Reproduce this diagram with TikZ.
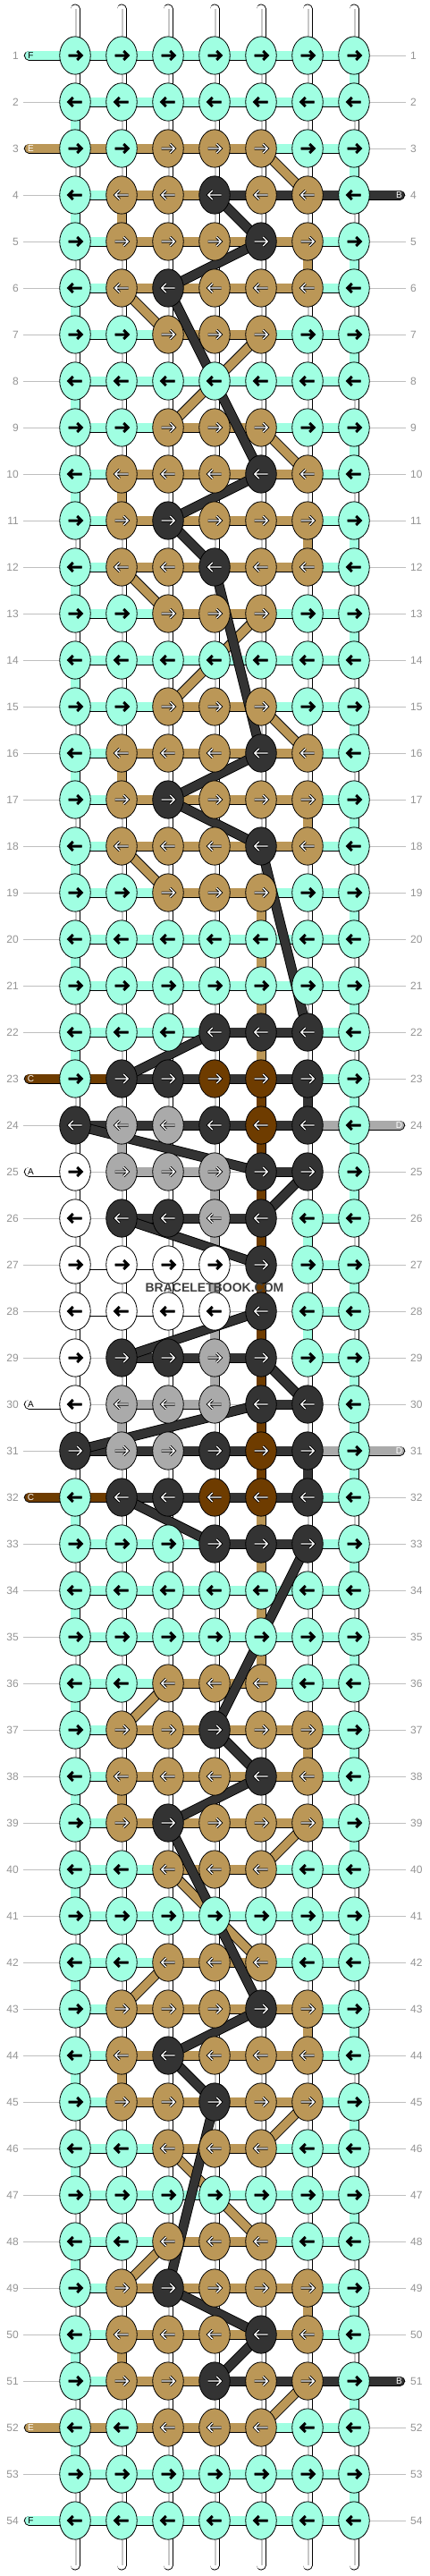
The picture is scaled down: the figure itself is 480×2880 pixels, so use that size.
\documentclass[tikz,border=0pt]{standalone}
\usepackage{fontspec}
\setmainfont{Liberation Sans}
\usetikzlibrary{shapes.geometric}
\definecolor{cM}{HTML}{A0FFE2}
\definecolor{cT}{HTML}{BB9757}
\definecolor{cK}{HTML}{333333}
\definecolor{cB}{HTML}{6E3C00}
\definecolor{cG}{HTML}{AAAAAA}
\definecolor{cW}{HTML}{FFFFFF}
\definecolor{cw}{HTML}{FFFFFF}
\colorlet{aM}{black}\colorlet{aW}{black}\colorlet{aT}{white}
\colorlet{aK}{white}\colorlet{aB}{white}\colorlet{aG}{white}
% pass A: knot centre coordinates, guide lines, row numbers
\newcommand\passA[4]{%
  \pgfmathsetmacro\yy{-(62+52*(#1-1))}%
  \foreach \ci in {1,...,7} {\coordinate (k#1-\ci) at ({84+52*(\ci-1)},\yy);}
  \coordinate (gl#1) at (26,\yy);
  \coordinate (gr#1) at (454,\yy);
  \draw[guide] (gl#1) -- (gr#1);
  \node[rowlab,anchor=east] (nl#1) at (21,\yy) {#1};
  \node[rowlab,anchor=west] (nr#1) at (459,\yy) {#1};
}
% pass B: horizontal and vertical connectors
\newcommand\passB[4]{%
  \foreach \hh [count=\ci] in {#3} {
    \if N\hh\else
      \pgfmathtruncatemacro\cn{\ci+1}
      \draw[bar,double=c\hh] (k#1-\ci) -- (k#1-\cn);
    \fi
  }
  \ifnum#1>1
    \pgfmathtruncatemacro\rp{#1-1}
    \foreach \vv [count=\ci] in {#4} {
      \draw[bar,double=c\vv] (k\rp-\ci) -- (k#1-\ci);
      \if w\vv \draw[sheen] ([xshift=1pt]k\rp-\ci) -- ([xshift=1pt]k#1-\ci);\fi
    }
  \fi
}
% pass C: knots and arrows
\newcommand\passC[4]{%
  \pgfmathsetmacro\dd{1-2*mod(#1+1,2)}%
  \foreach \kk [count=\ci] in {#2} {
    \node[knot,fill=c\kk] (n#1-\ci) at (k#1-\ci) {};
    \begin{scope}[shift={(n#1-\ci.center)},xscale=\dd]
      \draw[arrowout] (-7.5,0) -- (6.5,0) (2.3,5) -- (7.3,0) -- (2.3,-5);
      \draw[arrowin,draw=a\kk] (-7.5,0) -- (6.5,0) (2.3,5) -- (7.3,0) -- (2.3,-5);
    \end{scope}
  }
}
\newcommand\lend[3]{%
  \pgfmathsetmacro\yy{-(62+52*(#1-1))}%
  \coordinate (L#1) at (32.5,\yy);
  \draw[bar,double=c#2,line cap=round] (L#1) -- (k#1-1);
  \node[endlab,text=a#2] (LL#1) at (34.5,\yy) {#3};
}
\newcommand\rend[3]{%
  \pgfmathsetmacro\yy{-(62+52*(#1-1))}%
  \coordinate (R#1) at (447.5,\yy);
  \draw[bar,double=c#2,line cap=round] (k#1-7) -- (R#1);
  \node[endlab,text=a#2] (RR#1) at (446.5,\yy) {#3};
}
\newcommand\rowdata{%
\krow{1}{M,M,M,M,M,M,M}{M,M,M,M,M,M}{}
\krow{2}{M,M,M,M,M,M,M}{M,M,M,M,M,M}{w,w,w,w,w,w,M}
\krow{3}{M,M,T,T,T,M,M}{T,T,T,T,M,M}{M,w,w,w,w,w,w}
\krow{4}{M,T,T,K,T,T,M}{M,T,T,K,K,K}{w,w,w,w,w,w,M}
\krow{5}{M,T,T,T,K,T,M}{M,T,T,T,T,M}{M,T,w,w,w,w,w}
\krow{6}{M,T,K,T,T,T,M}{M,T,T,T,T,M}{w,w,w,w,w,T,M}
\krow{7}{M,M,T,T,T,M,M}{M,M,T,T,M,M}{M,w,w,w,w,w,w}
\krow{8}{M,M,M,M,M,M,M}{M,M,M,M,M,M}{w,w,w,w,w,w,M}
\krow{9}{M,M,T,T,T,M,M}{M,M,T,T,M,M}{M,w,w,w,w,w,w}
\krow{10}{M,T,T,T,K,T,M}{M,T,T,T,T,M}{w,w,w,w,w,w,M}
\krow{11}{M,T,K,T,T,T,M}{M,T,T,T,T,M}{M,T,w,w,w,w,w}
\krow{12}{M,T,T,K,T,T,M}{M,T,T,T,T,M}{w,w,w,w,w,T,M}
\krow{13}{M,M,T,T,T,M,M}{M,M,T,T,M,M}{M,w,w,w,w,w,w}
\krow{14}{M,M,M,M,M,M,M}{M,M,M,M,M,M}{w,w,w,w,w,w,M}
\krow{15}{M,M,T,T,T,M,M}{M,M,T,T,M,M}{M,w,w,w,w,w,w}
\krow{16}{M,T,T,T,K,T,M}{M,T,T,T,T,M}{w,w,w,w,w,w,M}
\krow{17}{M,T,K,T,T,T,M}{M,T,T,T,T,M}{M,T,w,w,w,w,w}
\krow{18}{M,T,T,T,K,T,M}{M,T,T,T,T,M}{w,w,w,w,w,T,M}
\krow{19}{M,M,T,T,T,M,M}{M,M,T,T,M,M}{M,w,w,w,w,w,w}
\krow{20}{M,M,M,M,M,M,M}{M,M,M,M,M,M}{w,w,w,w,T,w,M}
\krow{21}{M,M,M,M,M,M,M}{M,M,M,M,M,M}{M,w,w,w,T,w,w}
\krow{22}{M,M,M,K,K,K,M}{M,M,M,K,K,M}{w,w,w,w,T,w,M}
\krow{23}{M,K,K,B,B,K,M}{B,K,K,K,K,M}{M,w,w,w,T,w,w}
\krow{24}{K,G,G,K,B,K,M}{K,K,K,K,K,G}{w,w,w,w,B,K,M}
\krow{25}{W,G,G,G,K,K,M}{N,G,G,N,K,N}{w,G,w,w,B,w,M}
\krow{26}{W,K,K,G,K,M,M}{N,K,K,K,N,M}{w,w,w,G,B,w,M}
\krow{27}{W,W,W,W,K,M,M}{W,W,W,N,N,M}{w,w,w,G,B,M,w}
\krow{28}{W,W,W,W,K,M,M}{W,W,W,N,N,M}{w,w,w,G,B,w,M}
\krow{29}{W,K,K,G,K,M,M}{N,K,K,K,N,M}{w,w,w,G,B,M,w}
\krow{30}{W,G,G,G,K,K,M}{N,G,G,N,K,N}{w,w,w,G,B,w,M}
\krow{31}{K,G,G,K,B,K,M}{K,K,K,K,K,G}{w,G,w,w,B,w,M}
\krow{32}{M,K,K,B,B,K,M}{B,K,K,K,K,M}{w,w,w,w,B,K,M}
\krow{33}{M,M,M,K,K,K,M}{M,M,M,K,K,M}{M,w,w,w,T,w,w}
\krow{34}{M,M,M,M,M,M,M}{M,M,M,M,M,M}{w,w,w,w,T,w,M}
\krow{35}{M,M,M,M,M,M,M}{M,M,M,M,M,M}{M,w,w,w,T,w,w}
\krow{36}{M,M,T,T,T,M,M}{M,M,T,T,M,M}{w,w,w,w,T,w,M}
\krow{37}{M,T,T,K,T,T,M}{M,T,T,T,T,M}{M,w,w,w,w,w,w}
\krow{38}{M,T,T,T,K,T,M}{M,T,T,T,T,M}{w,w,w,w,w,T,M}
\krow{39}{M,T,K,T,T,T,M}{M,T,T,T,T,M}{M,T,w,w,w,w,w}
\krow{40}{M,M,T,T,T,M,M}{M,M,T,T,M,M}{w,w,w,w,w,w,M}
\krow{41}{M,M,M,M,M,M,M}{M,M,M,M,M,M}{M,w,w,w,w,w,w}
\krow{42}{M,M,T,T,T,M,M}{M,M,T,T,M,M}{w,w,w,w,w,w,M}
\krow{43}{M,T,T,T,K,T,M}{M,T,T,T,T,M}{M,w,w,w,w,w,w}
\krow{44}{M,T,K,T,T,T,M}{M,T,T,T,T,M}{w,w,w,w,w,T,M}
\krow{45}{M,T,T,K,T,T,M}{M,T,T,T,T,M}{M,T,w,w,w,w,w}
\krow{46}{M,M,T,T,T,M,M}{M,M,T,T,M,M}{w,w,w,w,w,w,M}
\krow{47}{M,M,M,M,M,M,M}{M,M,M,M,M,M}{M,w,w,w,w,w,w}
\krow{48}{M,M,T,T,T,M,M}{M,M,T,T,M,M}{w,w,w,w,w,w,M}
\krow{49}{M,T,K,T,T,T,M}{M,T,T,T,T,M}{M,w,w,w,w,w,w}
\krow{50}{M,T,T,T,K,T,M}{M,T,T,T,T,M}{w,w,w,w,w,T,M}
\krow{51}{M,T,T,K,T,T,M}{M,T,T,K,K,K}{M,T,w,w,w,w,w}
\krow{52}{M,M,T,T,T,M,M}{T,T,T,T,M,M}{w,w,w,w,w,w,M}
\krow{53}{M,M,M,M,M,M,M}{M,M,M,M,M,M}{M,w,w,w,w,w,w}
\krow{54}{M,M,M,M,M,M,M}{M,M,M,M,M,M}{w,w,w,w,w,w,M}
}
\begin{document}
\begin{tikzpicture}[x=1pt,y=1pt,
  knot/.style={ellipse,draw=black,line width=0.8pt,minimum width=34.5pt,minimum height=42.3pt,inner sep=0pt},
  bar/.style={draw=black,line width=0.9pt,double distance=9.2pt},
  sheen/.style={draw=black!22,line width=1.1pt},
  guide/.style={draw=black!25,line width=0.8pt},
  rowlab/.style={text=black!42,font=\fontsize{12}{12}\selectfont,inner sep=0pt},
  endlab/.style={font=\fontsize{10}{10}\selectfont,inner sep=0pt},
  arrowout/.style={draw=black,line width=3pt,line join=miter,miter limit=10},
  arrowin/.style={line width=1.3pt,line join=miter,miter limit=10}]
\fill[white] (0,0) rectangle (480,-2880);
\useasboundingbox (0,0) rectangle (480,-2880);
\let\krow\passA \rowdata
\foreach \ci in {1,...,7} {
  \coordinate (TS\ci) at ({84+52*(\ci-1)},-10);
  \coordinate (BS\ci) at ({84+52*(\ci-1)},-2868);
  \draw[bar,double=white,line cap=round] (TS\ci) -- (k1-\ci);
  \draw[sheen] ([xshift=1pt]TS\ci) -- ([xshift=1pt]k1-\ci);
  \draw[bar,double=white,line cap=round] (k54-\ci) -- (BS\ci);
  \draw[sheen] ([xshift=1pt]k54-\ci) -- ([xshift=1pt]BS\ci);
}
\let\krow\passB \rowdata
\lend{1}{M}{F}\lend{3}{T}{E}\lend{23}{B}{C}\lend{25}{W}{A}
\lend{30}{W}{A}\lend{32}{B}{C}\lend{52}{T}{E}\lend{54}{M}{F}
\rend{4}{K}{B}\rend{24}{G}{D}\rend{31}{G}{D}\rend{51}{K}{B}
\foreach \ra/\ca/\rb/\cb/\col in {3/5/4/6/T,6/2/7/3/T,7/5/9/3/T,9/5/10/6/T,12/2/13/3/T,13/5/15/3/T,15/5/16/6/T,18/2/19/3/T,
  36/3/37/2/T,39/6/40/5/T,40/3/42/5/T,42/3/43/2/T,45/6/46/5/T,46/3/48/5/T,48/3/49/2/T,51/6/52/5/T,
  4/4/5/5/K,5/5/6/3/K,6/3/10/5/K,10/5/11/3/K,11/3/12/4/K,12/4/16/5/K,16/5/17/3/K,17/3/18/5/K,18/5/22/6/K,
  22/4/23/2/K,24/1/25/5/K,25/6/26/5/K,26/2/27/5/K,28/5/29/2/K,29/5/30/6/K,30/5/31/1/K,32/2/33/4/K,
  33/6/37/4/K,37/4/38/5/K,38/5/39/3/K,39/3/43/5/K,43/5/44/3/K,44/3/45/4/K,45/4/49/3/K,49/3/50/5/K,50/5/51/4/K}
  {\draw[bar,double=c\col] (k\ra-\ca) -- (k\rb-\cb);}
\let\krow\passC \rowdata
\node[font=\bfseries\fontsize{14}{14}\selectfont,text=black!75,inner sep=0pt] (wm) at (240,-1439.5) {BRACELETBOOK.COM};
\end{tikzpicture}
\end{document}
